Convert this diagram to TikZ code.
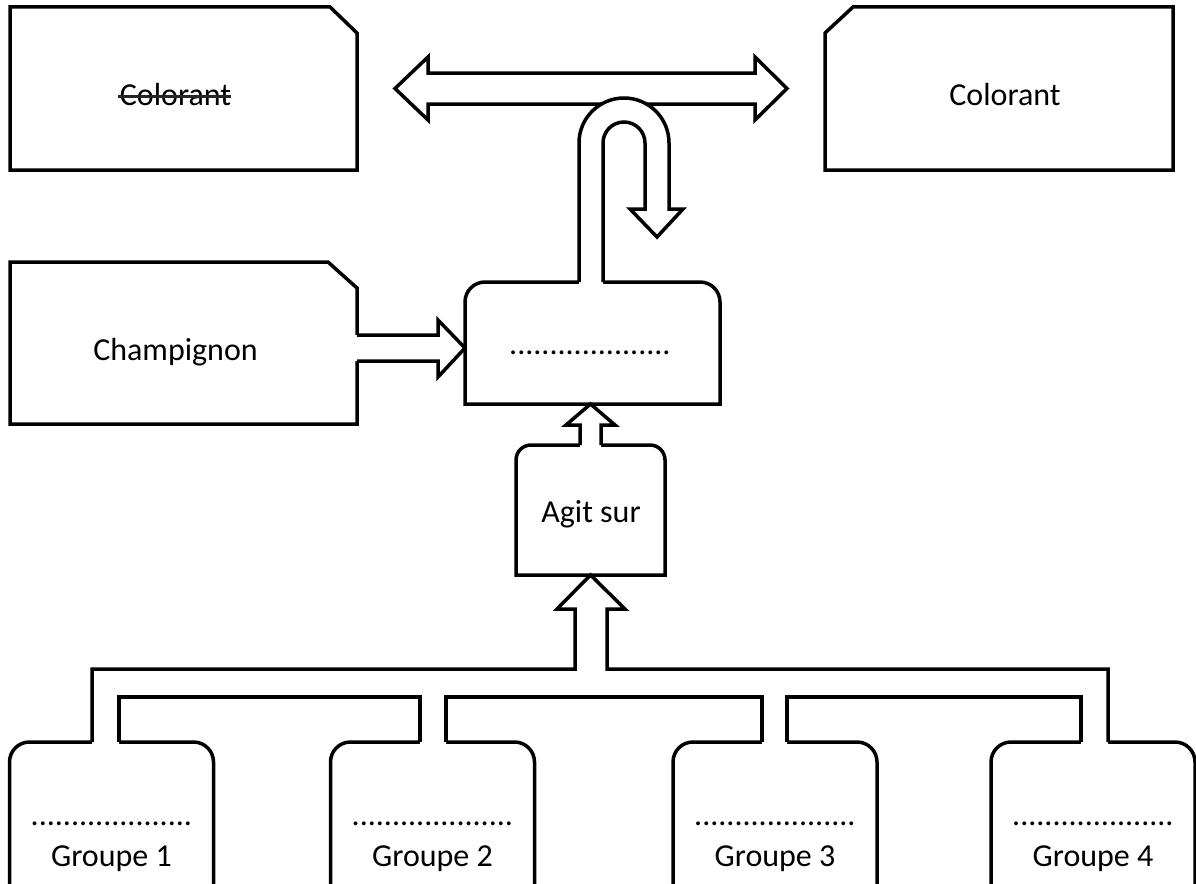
\documentclass[tikz,border=0pt]{standalone}
\usepackage{fontspec}
\setmainfont{Carlito}
\usetikzlibrary{calc,positioning}
\newcommand{\lblfont}{\fontsize{32}{38}\selectfont}
\tikzset{
  basebox/.style={rectangle,inner sep=0pt,outer sep=0pt},
  snipbox/.style={basebox,minimum width=347pt,minimum height=163pt},
  roundbox/.style={basebox},
  grpbox/.style={basebox,anchor=north,minimum width=204pt,minimum height=150pt},
  lbl/.style={anchor=base,inner sep=0pt,font=\lblfont},
  outline/.style={draw=black,line width=3.5pt},
  bandfill/.style={fill=white},
  strike/.style={draw=black!85,line width=2.2pt}
}

\begin{document}
\begin{tikzpicture}[x=1pt,y=-1pt]
  \useasboundingbox (0,0) rectangle (1196,883);

  % boxes
  \node[snipbox] (oldcol) at (183.5,88.5) {};
  \node[snipbox,minimum width=348pt] (newcol) at (999,88.5) {};
  \node[snipbox,minimum height=162pt] (champ) at (183.5,343) {};
  \node[roundbox,minimum width=255pt,minimum height=122pt] (act) at (592.5,343) {};
  \node[roundbox,minimum width=149pt,minimum height=130pt] (agit) at (590.5,510) {};
  \foreach \i/\x in {1/111.5,2/432.5,3/775,4/1093}
    \node[grpbox] (g\i) at (\x,742) {};

  % snipped corners
  \draw[outline] (oldcol.south west) -- (oldcol.north west) -- ($(oldcol.north east)+(-27,0)$)
      -- ($(oldcol.north east)+(0,26)$) -- (oldcol.south east) -- cycle;
  \draw[outline] (champ.south west) -- (champ.north west) -- ($(champ.north east)+(-29,0)$)
      -- ($(champ.north east)+(0,26)$) -- (champ.south east) -- cycle;
  \draw[outline] (newcol.south east) -- (newcol.north east) -- ($(newcol.north west)+(28,0)$)
      -- ($(newcol.north west)+(0,26)$) -- (newcol.south west) -- cycle;

  % rounded tops
  \foreach \nm/\rad in {act/20,agit/15,g1/20,g2/20,g3/20,g4/20}
    \draw[outline] (\nm.south west) -- ($(\nm.north west)+(0,\rad)$)
        arc[start angle=180,end angle=270,radius=\rad] -- ($(\nm.north east)+(-\rad,0)$)
        arc[start angle=270,end angle=360,radius=\rad] -- (\nm.south east) -- cycle;

  % double arrow between the two dyes
  \draw[outline,fill=white] ($(oldcol.east)+(38,0)$) -- ++(33,-31.5) -- ++(0,16)
      -- ($(newcol.west)+(-70,-15.5)$) -- ++(0,-16) -- ($(newcol.west)+(-38,0)$)
      -- ++(-32,31.5) -- ++(0,-16) -- ($(oldcol.east)+(71,15.5)$) -- ++(0,16) -- cycle;

  % u-turn
  \coordinate (ul) at ($(act.north)+(-13.5,0)$);
  \coordinate (ur) at ($(act.north)+(10.5,0)$);
  \path[bandfill] ($(ul)+(0,3)$) -- ($(ul)+(0,-139)$) arc[start angle=180,end angle=360,radius=45]
      -- ++(0,66) -- ++(14,0) -- ++(-26,28) -- ++(-27,-28) -- ++(15,0) -- ++(0,-66)
      arc[start angle=0,end angle=-180,radius=21] -- ($(ur)+(0,3)$) -- cycle;
  \draw[outline] (ul) -- ++(0,-139) arc[start angle=180,end angle=360,radius=45]
      -- ++(0,66) -- ++(14,0) -- ++(-26,28) -- ++(-27,-28) -- ++(15,0) -- ++(0,-66)
      arc[start angle=0,end angle=-180,radius=21] -- (ur);

  % champignon -> act
  \path[bandfill] ($(champ.east)+(-3,-8)$) -- ++(84,0) -- ++(0,-15) -- ($(act.west)+(0,5)$)
      -- ($(champ.east)+(81,34)$) -- ++(0,-16) -- ($(champ.east)+(-3,18)$) -- cycle;
  \draw[outline] ($(champ.east)+(0,-8)$) -- ++(81,0) -- ++(0,-15) -- ($(act.west)+(0,5)$)
      -- ($(champ.east)+(81,34)$) -- ++(0,-16) -- ($(champ.east)+(0,18)$);

  % agit -> act
  \path[bandfill] ($(agit.north)+(-10.5,3)$) -- ($(agit.north)+(-10.5,-20)$) -- ++(-14,0)
      -- (agit.north |- act.south) -- ($(agit.north)+(24.5,-20)$) -- ++(-14,0)
      -- ($(agit.north)+(10.5,3)$) -- cycle;
  \draw[outline] ($(agit.north)+(-10.5,0)$) -- ++(0,-20) -- ++(-14,0)
      -- (agit.north |- act.south) -- ($(agit.north)+(24.5,-20)$) -- ++(-14,0)
      -- ($(agit.north)+(10.5,0)$);

  % groups -> agit
  \path[bandfill] ($(g1.north)+(-19.5,3)$) |- (575,669) |- (557,609) -- (agit.south)
      -- (625,609) -| (607,669) -| ($(g4.north)+(15,3)$) -- ($(g4.north)+(-12,3)$)
      |- (787,697) -- ($(g3.north)+(12,3)$) -- ($(g3.north)+(-13,3)$)
      |- (446,697) -- ($(g2.north)+(13.5,3)$) -- ($(g2.north)+(-12.5,3)$)
      |- (119,697) -- ($(g1.north)+(7.5,3)$) -- cycle;
  \draw[outline] ($(g1.north)+(-19.5,0)$) |- (575,669) |- (557,609) -- (agit.south)
      -- (625,609) -| (607,669) -| ($(g4.north)+(15,0)$);
  \draw[outline] ($(g1.north)+(7.5,0)$) |- (420,697) -- ($(g2.north)+(-12.5,0)$);
  \draw[outline] ($(g2.north)+(13.5,0)$) |- (762,697) -- ($(g3.north)+(-13,0)$);
  \draw[outline] ($(g3.north)+(12,0)$) |- (1081,697) -- ($(g4.north)+(-12,0)$);

  % texts
  \node[lbl] (oldtxt) at (175.5,105) {Colorant};
  \draw[strike] ($(oldtxt.base west)+(-2,-8.5)$) -- ($(oldtxt.base east)+(0,-8.5)$);
  \node[lbl] (newtxt) at (1005,105) {Colorant};
  \node[lbl] (champtxt) at (175.5,360) {Champignon};
  \node[lbl] (acttxt) at (590,354) {....................};
  \node[lbl] (agittxt) at (591,522) {Agit sur};
  \foreach \i in {1,...,4} {
    \node[lbl] (gdots\i) at ($(g\i.north)+(0,83)$) {....................};
    \node[lbl] (gname\i) at ($(g\i.north)+(0,124)$) {Groupe \i};
  }

\end{tikzpicture}
\end{document}
